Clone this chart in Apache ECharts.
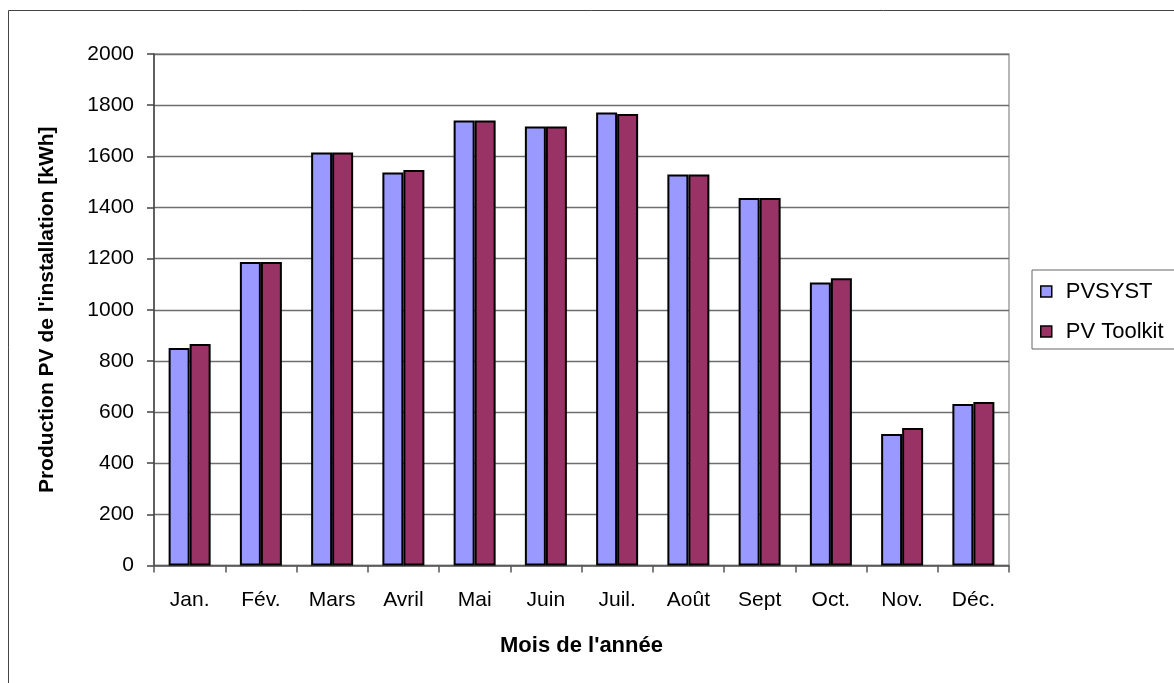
<!DOCTYPE html>
<html>
<head>
<meta charset="utf-8">
<script src="https://cdn.jsdelivr.net/npm/echarts@6/dist/echarts.min.js"></script>
<style>
  html, body { margin: 0; padding: 0; background: #fff; }
  #chart { width: 1174px; height: 683px; }
</style>
</head>
<body>
<div id="chart"></div>
<script>
const months = ["Jan.", "Fév.", "Mars", "Avril", "Mai", "Juin", "Juil.", "Août", "Sept", "Oct.", "Nov.", "Déc."];
const pvsyst = [850, 1187, 1615, 1537, 1740, 1717, 1771, 1529, 1437, 1107, 514, 631];
const pvToolkit = [866, 1187, 1615, 1546, 1740, 1717, 1765, 1529, 1437, 1123, 538, 639];
const seriesNames = ["PVSYST", "PV Toolkit"];

const font = "'Liberation Sans', Arial, sans-serif";
const chart = echarts.init(document.getElementById("chart"));

chart.setOption({
  animation: false,
  backgroundColor: "#fff",
  textStyle: { fontFamily: font },
  graphic: [
    {
      type: "rect",
      shape: { x: 8.5, y: 10.5, width: 1300, height: 800 },
      style: { fill: "none", stroke: "#444", lineWidth: 1 },
      silent: true,
      z: -1,
    },
  ],
  grid: {
    left: 154,
    top: 54,
    right: 165,
    bottom: 117.5,
    show: true,
    borderColor: "#a0a0a0",
    borderWidth: 1.5,
  },
  legend: {
    orient: "vertical",
    left: 1032,
    top: 270,
    padding: [9, 14, 5, 8],
    itemGap: 15,
    itemWidth: 11,
    itemHeight: 11,
    icon: "rect",
    borderColor: "#666",
    borderWidth: 1,
    itemStyle: { borderColor: "#000", borderWidth: 1.5 },
    textStyle: {
      fontFamily: font,
      fontSize: 22,
      color: "#000",
      lineHeight: 25,
      padding: [0, 0, 0, 9],
    },
    data: seriesNames,
  },
  xAxis: {
    type: "category",
    data: months,
    name: "Mois de l'année",
    nameLocation: "middle",
    nameGap: 69,
    nameTextStyle: { fontFamily: font, fontSize: 22, fontWeight: "bold", color: "#000" },
    axisLine: { lineStyle: { color: "#555", width: 1.5 } },
    axisTick: { show: true, length: 7, lineStyle: { color: "#555", width: 1.5 } },
    axisLabel: { fontFamily: font, fontSize: 21, color: "#000", margin: 24 },
  },
  yAxis: {
    type: "value",
    min: 0,
    max: 2000,
    interval: 200,
    name: "Production PV de l'installation [kWh]",
    nameLocation: "middle",
    nameGap: 96,
    nameTextStyle: { fontFamily: font, fontSize: 21, fontWeight: "bold", color: "#000" },
    axisLine: { show: true, lineStyle: { color: "#444", width: 1.5 } },
    axisTick: { show: true, length: 7, lineStyle: { color: "#444", width: 1.5 } },
    axisLabel: {
      fontFamily: font,
      fontSize: 21,
      color: "#000",
      margin: 20,
      formatter: (v) => String(v),
    },
    splitLine: { lineStyle: { color: "#6e6e6e", width: 1.3 } },
  },
  series: [
    {
      name: seriesNames[0],
      type: "bar",
      data: pvsyst,
      barWidth: 21,
      barGap: "0%",
      itemStyle: { color: "#9999FF", borderColor: "#000", borderWidth: 2 },
    },
    {
      name: seriesNames[1],
      type: "bar",
      data: pvToolkit,
      barWidth: 21,
      itemStyle: { color: "#993366", borderColor: "#000", borderWidth: 2 },
    },
  ],
});
</script>
</body>
</html>
